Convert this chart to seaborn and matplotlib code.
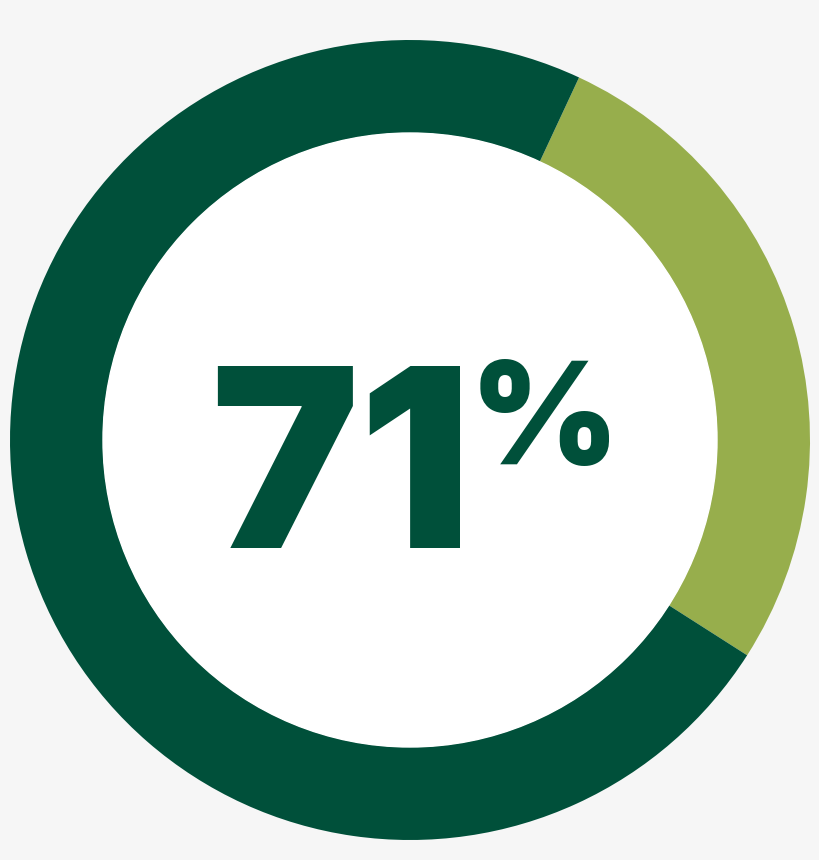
import matplotlib
matplotlib.use("Agg")
import matplotlib.pyplot as plt
import seaborn as sns

# share of the ring
labels = ["dark", "light"]
shares = [72.9, 27.1]
ring_colors = ["#00503a", "#97ae4c"]
headline = "71"
suffix = "%"

sns.set_style("white")
plt.rcParams["font.family"] = ["Inter", "DejaVu Sans"]

fig = plt.figure(figsize=(8.2, 8.6), dpi=100, facecolor="#f6f6f6")
ax = fig.add_axes([0, 0, 1, 1])
ax.set_facecolor("#f6f6f6")

# light slice starts 25 deg clockwise from the top
ax.pie(shares[::-1], colors=ring_colors[::-1], startangle=65, counterclock=False,
       radius=1.0, wedgeprops=dict(width=0.2325, linewidth=0))
ax.add_patch(plt.Circle((0, 0), 0.7675, color="white", zorder=3))

ax.set_xlim(-1.025, 1.025)
ax.set_ylim(-1.05, 1.1)
ax.set_aspect("equal")
ax.axis("off")

txt = dict(color="#00503a", fontweight="black", va="baseline", zorder=4)
ax.text(-0.172, -0.27, headline, fontsize=180, ha="center", **txt)
ax.text(0.335, -0.06, suffix, fontsize=103, ha="center", **txt)

fig.savefig("out.png", dpi=100, facecolor=fig.get_facecolor())
